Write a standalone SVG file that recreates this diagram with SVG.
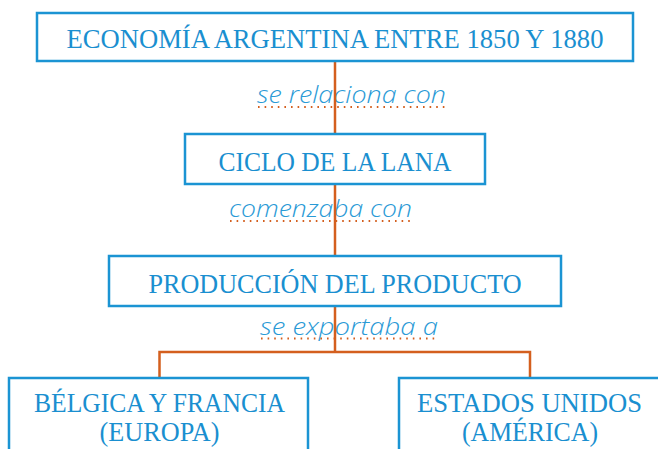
<svg xmlns="http://www.w3.org/2000/svg" width="658" height="449" viewBox="0 0 658 449">
<style>
.box{fill:#fff;stroke:#1b94d3;stroke-width:2.5}
.t{font-family:"Liberation Serif","DejaVu Serif",serif;font-size:28px;fill:#1a8fd0;text-anchor:middle}
.lbl{font-family:"Open Sans","Liberation Sans",sans-serif;font-style:italic;font-weight:300;font-size:23px;fill:#2a9ad6}
.con{stroke:#d45f1e;stroke-width:2.5;fill:none}
.dot{stroke:#d45f1e;stroke-width:2;stroke-dasharray:1.6 5;fill:none}
</style>
<rect width="658" height="449" fill="#fff"/>
<g id="label1">
<text class="lbl" x="257" y="103" textLength="189" lengthAdjust="spacingAndGlyphs">se relaciona con</text>
<line class="dot" x1="258" y1="107" x2="446" y2="107"/>
</g>
<g id="label2">
<text class="lbl" x="229" y="217" textLength="183" lengthAdjust="spacingAndGlyphs">comenzaba con</text>
<line class="dot" x1="230" y1="221" x2="412" y2="221"/>
</g>
<g id="label3">
<text class="lbl" x="260" y="335" textLength="178" lengthAdjust="spacingAndGlyphs">se exportaba a</text>
<line class="dot" x1="261" y1="338.5" x2="438" y2="338.5"/>
</g>
<g id="connectors">
<line class="con" x1="335" y1="61" x2="335" y2="134"/>
<line class="con" x1="335" y1="184" x2="335" y2="256"/>
<line class="con" x1="335" y1="306" x2="335" y2="352"/>
<polyline class="con" points="159.5,378 159.5,352 530,352 530,378"/>
</g>
<g id="node-economia">
<rect class="box" x="37" y="13" width="596" height="48"/>
<text class="t" x="335" y="48" textLength="537" lengthAdjust="spacingAndGlyphs">ECONOMÍA ARGENTINA ENTRE 1850 Y 1880</text>
</g>
<g id="node-ciclo">
<rect class="box" x="185" y="134" width="300" height="50"/>
<text class="t" x="335" y="171" textLength="233" lengthAdjust="spacingAndGlyphs">CICLO DE LA LANA</text>
</g>
<g id="node-produccion">
<rect class="box" x="109" y="256" width="452" height="50"/>
<text class="t" x="335" y="293" textLength="373" lengthAdjust="spacingAndGlyphs">PRODUCCIÓN DEL PRODUCTO</text>
</g>
<g id="node-belgica">
<rect class="box" x="9" y="378" width="299" height="80"/>
<text class="t" x="159.5" y="412" textLength="251" lengthAdjust="spacingAndGlyphs">BÉLGICA Y FRANCIA</text>
<text class="t" x="159.5" y="441" textLength="120" lengthAdjust="spacingAndGlyphs">(EUROPA)</text>
</g>
<g id="node-eeuu">
<rect class="box" x="399" y="378" width="262" height="80"/>
<text class="t" x="529.5" y="412" textLength="225" lengthAdjust="spacingAndGlyphs">ESTADOS UNIDOS</text>
<text class="t" x="530" y="441" textLength="136" lengthAdjust="spacingAndGlyphs">(AMÉRICA)</text>
</g>
</svg>
